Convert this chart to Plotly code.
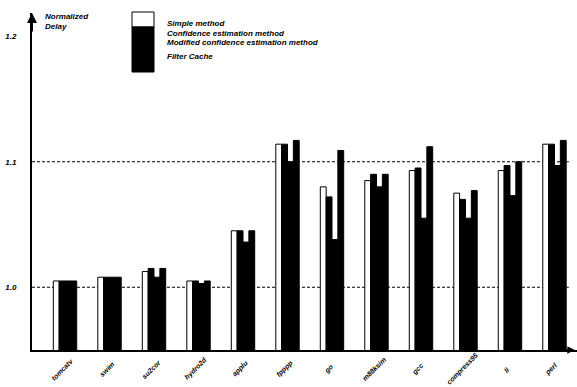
import plotly.graph_objects as go

# Benchmarks and normalized delay for each fetch/caching scheme
benchmarks = ["tomcatv", "swim", "su2cor", "hydro2d", "applu", "fpppp",
              "go", "m88ksim", "gcc", "compress95", "li", "perl"]
simple_method = [1.005, 1.008, 1.0125, 1.005, 1.045, 1.114,
                 1.080, 1.085, 1.093, 1.075, 1.093, 1.114]
confidence_method = [1.005, 1.008, 1.015, 1.005, 1.045, 1.114,
                     1.072, 1.090, 1.095, 1.070, 1.097, 1.114]
modified_confidence_method = [1.005, 1.008, 1.008, 1.003, 1.036, 1.100,
                              1.038, 1.080, 1.055, 1.055, 1.073, 1.097]
filter_cache = [1.005, 1.008, 1.015, 1.005, 1.045, 1.117,
                1.109, 1.090, 1.112, 1.077, 1.100, 1.117]
series_names = ["Simple method", "Confidence estimation method",
                "Modified confidence estimation method", "Filter Cache"]
y_tick_values = [1.0, 1.1, 1.2]
y_tick_labels = ["1.0", "1.1", "1.2"]
grid_levels = [1.0, 1.1]

series_values = [simple_method, confidence_method,
                 modified_confidence_method, filter_cache]
fills = ["white", "black", "black", "black"]

W, H = 577, 387
ML, MR, MT, MB = 32, 0, 13, 37
PW, PH = W - ML - MR, H - MT - MB
X_RANGE = [-0.742, 11.506]

def px_x(p):
    return (p - ML) / PW

def px_y(p):
    return (H - MB - p) / PH

FONT = "Liberation Sans"
text_font = dict(family=FONT, size=8, color="black", weight="bold", style="italic")
tick_font = dict(family=FONT, size=7, color="black", weight="bold", style="italic")

fig = go.Figure()
positions = list(range(len(benchmarks)))
for name, vals, fill in zip(series_names, series_values, fills):
    fig.add_trace(go.Bar(
        x=positions, y=vals, name=name,
        marker=dict(color=fill, line=dict(color="black", width=1)),
        showlegend=False,
    ))

shapes = []
for lvl in grid_levels:
    shapes.append(dict(type="line", xref="paper", yref="y", x0=0, x1=0.985,
                       y0=lvl, y1=lvl, layer="below",
                       line=dict(color="black", width=1, dash="3px,2px")))

# stacked key swatches with labels
key_x0, key_x1, key_top, key_h = 132, 154, 12, 15
label_y = [23, 33, 43, 57]
annotations = []
for i, (name, fill) in enumerate(zip(series_names, fills)):
    shapes.append(dict(type="rect", xref="paper", yref="paper",
                       x0=px_x(key_x0), x1=px_x(key_x1),
                       y0=px_y(key_top + (i + 1) * key_h), y1=px_y(key_top + i * key_h),
                       fillcolor=fill, line=dict(color="black", width=1)))
    annotations.append(dict(xref="paper", yref="paper", x=px_x(165), y=px_y(label_y[i]),
                            xanchor="left", yanchor="middle", showarrow=False,
                            text=name, font=text_font))

annotations.append(dict(xref="paper", yref="paper", x=px_x(43), y=px_y(10),
                        xanchor="left", yanchor="top", showarrow=False, align="left",
                        text="Normalized<br>Delay", font=text_font))

# slanted benchmark names under each group
unit_px = PW / (X_RANGE[1] - X_RANGE[0])
for pos, name in zip(positions, benchmarks):
    annotations.append(dict(xref="x", yref="paper", x=pos - 3 / unit_px, y=px_y(369),
                            xanchor="center", yanchor="middle", showarrow=False,
                            textangle=-45, text=name, font=tick_font))

# arrowheads on both axes
annotations.append(dict(xref="paper", yref="paper", x=0, y=1, ax=0, ay=20,
                        showarrow=True, arrowhead=2, arrowsize=1, arrowwidth=2,
                        arrowcolor="black", text=""))
annotations.append(dict(xref="paper", yref="paper", x=0.996, y=0, ax=-20, ay=0,
                        showarrow=True, arrowhead=2, arrowsize=1, arrowwidth=1.5,
                        arrowcolor="black", text=""))

fig.update_layout(
    template="none",
    width=W, height=H,
    margin=dict(l=ML, r=MR, t=MT, b=MB, pad=0, autoexpand=False),
    paper_bgcolor="white", plot_bgcolor="white",
    barmode="group", bargap=0.474, bargroupgap=0,
    shapes=shapes, annotations=annotations,
    xaxis=dict(
        range=X_RANGE, tickmode="array", tickvals=positions,
        showticklabels=False,
        showgrid=False, zeroline=False, showline=True, linecolor="black", linewidth=1.5,
        ticks="", automargin=False,
    ),
    yaxis=dict(
        range=[0.95, 0.95 + PH / 1255], tickmode="array",
        tickvals=y_tick_values, ticktext=y_tick_labels,
        tickfont=text_font,
        showgrid=False, zeroline=False, showline=True, linecolor="black", linewidth=2,
        ticks="", ticklabelstandoff=12, automargin=False,
    ),
)

fig.write_html("out.html")
